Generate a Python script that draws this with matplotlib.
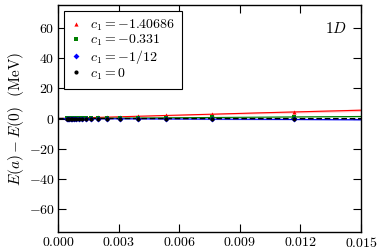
import numpy as np
import matplotlib
matplotlib.use("Agg")
import matplotlib.pyplot as plt
from matplotlib.ticker import FuncFormatter, MultipleLocator

plt.rcParams["mathtext.fontset"] = "cm"
plt.rcParams["font.family"] = "serif"
plt.rcParams["font.serif"] = ["cmr10", "DejaVu Serif"]
plt.rcParams["axes.formatter.use_mathtext"] = True

# --- lattice spacings (data points) ---
a_pts = [0.01167, 0.00761, 0.00535, 0.00396, 0.00307, 0.00243, 0.00198,
         0.00165, 0.00139, 0.00119, 0.00103, 0.00090, 0.00079, 0.00070,
         0.00063, 0.00056, 0.00051, 0.00046]

# --- E(a) - E(0) per c1 ---
red_pts = [4.55, 2.95, 2.08, 1.54, 1.19, 0.95, 0.77, 0.64, 0.54, 0.46,
           0.40, 0.35, 0.31, 0.27, 0.25, 0.22, 0.20, 0.18]
green_pts = [1.2, 0.78, 0.55, 0.41, 0.32, 0.25, 0.20, 0.17, 0.14, 0.12,
             0.10, 0.09, 0.08, 0.07, 0.06, 0.06, 0.05, 0.05]
blue_pts = [-0.62, -0.40, -0.28, -0.21, -0.16, -0.13, -0.10, -0.09, -0.07,
            -0.06, -0.05, -0.05, -0.04, -0.04, -0.03, -0.03, -0.03, -0.02]
black_pts = [-0.2, -0.13, -0.09, -0.07, -0.05, -0.04, -0.03, -0.03, -0.02,
             -0.02, -0.02, -0.01, -0.01, -0.01, -0.01, -0.01, -0.01, -0.01]

# --- fitted curves with error bands ---
a_fit = [0.0, 0.005, 0.010, 0.015]
red_fit = [0.0, 1.9, 3.75, 5.5]
red_err = [0.1, 0.35, 0.6, 0.85]
green_fit = [0.0, 0.45, 0.9, 1.35]
green_err = [0.1, 0.3, 0.5, 0.7]
blue_fit = [0.0, -0.27, -0.53, -0.8]
blue_err = [0.1, 0.25, 0.4, 0.55]
black_fit = [0.0, -0.03, -0.06, -0.1]

labels = [r"$c_1 = -1.40686$", r"$c_1 = -0.331$", r"$c_1 = -1/12$", r"$c_1 = 0$"]

fig = plt.figure(figsize=(3.82, 2.49), dpi=100)
ax = fig.add_axes([0.152, 0.068, 0.793, 0.912])

# --- bands and fit lines ---
for fit, err, col, bcol in [
    (red_fit, red_err, "red", "#ffb8b8"),
    (green_fit, green_err, "green", "#b8dcb8"),
    (blue_fit, blue_err, "blue", "#b8b8ff"),
]:
    fit = np.array(fit)
    err = np.array(err)
    ax.fill_between(a_fit, fit - err, fit + err, color=bcol, lw=0, alpha=0.8)
    ax.plot(a_fit, fit, color=col, lw=0.8)
ax.plot(a_fit, black_fit, color="black", lw=1.0, ls="--", dashes=(4, 2))

# --- data points ---
ax.plot(a_pts, red_pts, "^", color="red", ms=3, mew=0, label=labels[0])
ax.plot(a_pts, green_pts, "s", color="green", ms=3, mew=0, label=labels[1])
ax.plot(a_pts, blue_pts, "D", color="blue", ms=3, mew=0, label=labels[2])
ax.plot(a_pts, black_pts, "o", color="black", ms=3, mew=0, label=labels[3])

ax.set_xlim(0, 0.015)
ax.set_ylim(-75, 75)
ax.xaxis.set_major_locator(MultipleLocator(0.003))
ax.yaxis.set_major_locator(MultipleLocator(20))
ax.xaxis.set_major_formatter(FuncFormatter(lambda v, p: r"$%.3f$" % v))
ax.yaxis.set_major_formatter(FuncFormatter(lambda v, p: r"$%d$" % round(v)))
ax.tick_params(direction="in", length=6, width=0.8, top=True, right=True,
               labelsize=10, pad=2.5)
for s in ax.spines.values():
    s.set_linewidth(1.0)

ax.set_ylabel(r"$E(a) - E(0)$  (MeV)", fontsize=11, labelpad=2)
ax.text(0.955, 0.93, r"$1D$", transform=ax.transAxes, ha="right", va="top",
        fontsize=11)

leg = ax.legend(loc="upper left", fontsize=10, handlelength=0.8,
                handletextpad=0.6, borderpad=0.5, labelspacing=0.0,
                fancybox=False, edgecolor="black", framealpha=1,
                borderaxespad=0.4, markerscale=1.0)
leg.get_frame().set_linewidth(0.8)

fig.savefig("out.png", dpi=100)
